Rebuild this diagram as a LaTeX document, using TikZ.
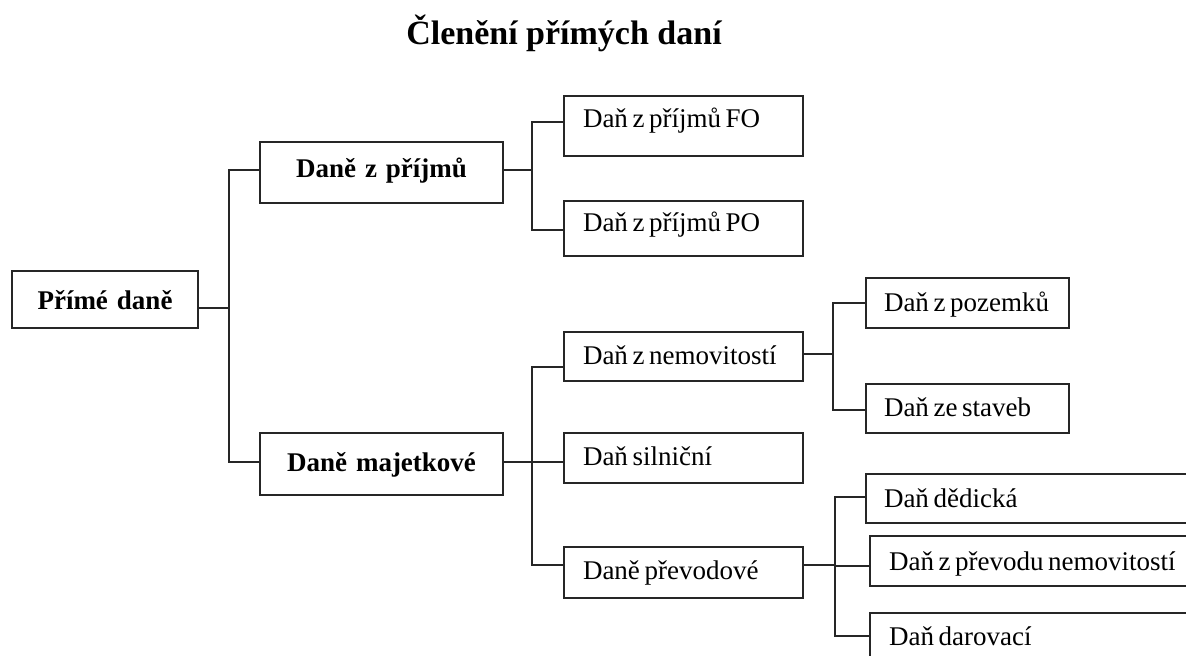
\documentclass[tikz,border=0pt]{standalone}
\usepackage{fontspec}
\setmainfont{Liberation Serif}
\definecolor{linec}{HTML}{262626}
\newcommand\tsp[1]{\mbox{\spaceskip=0.17em\relax #1}}
\tikzset{
  box/.style={draw=linec, line width=1pt, fill=white, inner ysep=0pt, anchor=south west,
    font=\fontsize{13.5}{16}\selectfont},
  lbox/.style={box, align=left, inner xsep=9.5pt},
  rbox/.style={lbox, inner xsep=9pt},
  cbox/.style={box, align=center, inner xsep=0pt, font=\fontsize{13.5}{16}\selectfont\bfseries},
  conn/.style={draw=linec, line width=1pt},
}
\begin{document}
\begin{tikzpicture}[x=0.5pt, y=-0.5pt]
\useasboundingbox (0,0) rectangle (1186,656);
\clip (0,0) rectangle (1186,656);
\fill[white] (0,0) rectangle (1186,656);

\node[font=\fontsize{17}{20}\selectfont\bfseries, anchor=base] (title) at (564,45) {Členění přímých daní};

% level 0
\node[cbox, text width=93pt, text height=19.5pt, text depth=9pt] (prime) at (11,329) {Přímé daně};
% level 1
\node[cbox, text width=121.5pt, text height=18pt, text depth=12.5pt] (dzp) at (259,204) {Daně z příjmů};
\node[cbox, text width=121.5pt, text height=19.5pt, text depth=11.5pt] (dm) at (259,496) {Daně majetkové};
% level 2
\node[lbox, text width=100.5pt, text height=16pt, text depth=14pt] (fo) at (563,157) {\tsp{Daň z příjmů FO}};
\node[lbox, text width=100.5pt, text height=15.5pt, text depth=12pt] (po) at (563,257) {\tsp{Daň z příjmů PO}};
\node[lbox, text width=100.5pt, text height=16.5pt, text depth=8pt] (nem) at (563,382) {\tsp{Daň z nemovitostí}};
\node[lbox, text width=100.5pt, text height=16.5pt, text depth=8.5pt] (sil) at (563,484) {\tsp{Daň silniční}};
\node[lbox, text width=100.5pt, text height=16pt, text depth=9.5pt] (prev) at (563,599) {\tsp{Daně převodové}};
% level 3
\node[rbox, text width=83.5pt, text height=17pt, text depth=8pt] (poz) at (865,329) {\tsp{Daň z pozemků}};
\node[rbox, text width=83.5pt, text height=16.5pt, text depth=8pt] (stav) at (865,434) {\tsp{Daň ze staveb}};
\node[rbox, text width=149.5pt, text height=16.5pt, text depth=8pt] (ded) at (865,524) {\tsp{Daň dědická}};
\node[lbox, text width=146.5pt, text height=17pt, text depth=8pt] (pnem) at (869,587) {\tsp{Daň z převodu nemovitostí}};
\node[lbox, text width=146.5pt, text height=16pt, text depth=9pt] (dar) at (869,664) {\tsp{Daň darovací}};

% connectors
\draw[conn] (prime.east |- 0,308) -- (229,308);
\draw[conn] (dzp.west |- 0,170) -- (229,170) -- (229,462) -- (dm.west |- 0,462);

\draw[conn] (dzp.east |- 0,170) -- (532,170);
\draw[conn] (fo.west |- 0,122) -- (532,122) -- (532,230) -- (po.west |- 0,230);

\draw[conn] (dm.east |- 0,462) -- (sil.west |- 0,462);
\draw[conn] (nem.west |- 0,367) -- (532,367) -- (532,565) -- (prev.west |- 0,565);

\draw[conn] (nem.east |- 0,354) -- (833,354);
\draw[conn] (poz.west |- 0,303) -- (833,303) -- (833,410) -- (stav.west |- 0,410);

\draw[conn] (prev.east |- 0,565) -- (835,565);
\draw[conn] (ded.west |- 0,497) -- (835,497) -- (835,636) -- (dar.west |- 0,636);
\draw[conn] (835,566) -- (pnem.west |- 0,566);
\end{tikzpicture}
\end{document}
